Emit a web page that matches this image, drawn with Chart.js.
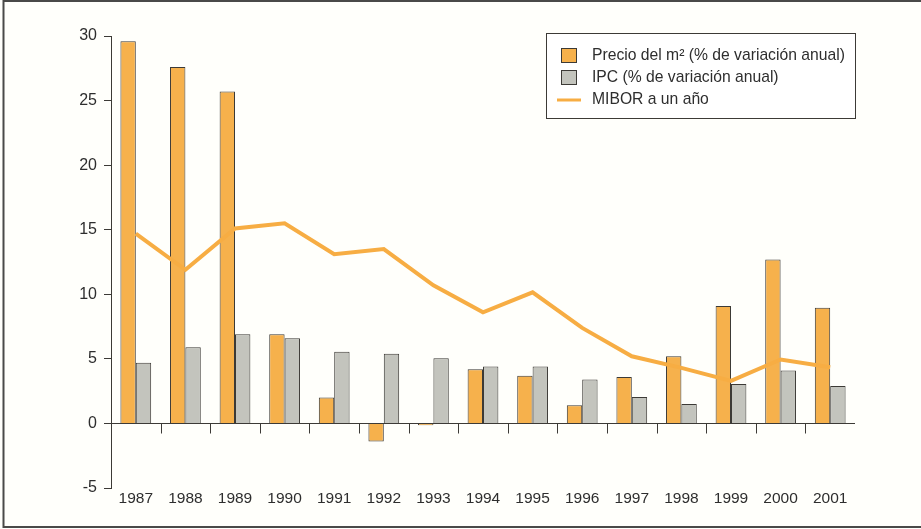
<!DOCTYPE html>
<html lang="es">
<head>
<meta charset="utf-8">
<title>Precio de la vivienda, IPC y MIBOR</title>
<script src="https://cdn.jsdelivr.net/npm/chart.js@4.4.1/dist/chart.umd.min.js"></script>
<style>
    html, body { margin: 0; padding: 0; background: #fffffb; }
    #wrap { width: 921px; height: 529px; position: relative; }
</style>
</head>
<body>
<div id="wrap"><canvas id="chart" width="921" height="529"></canvas></div>
<script>
// Datos
const years = ['1987', '1988', '1989', '1990', '1991', '1992', '1993', '1994',
    '1995', '1996', '1997', '1998', '1999', '2000', '2001'];
const precioM2 = [29.6, 27.6, 25.7, 6.9, 2.0, -1.4, -0.15, 4.2, 3.7, 1.4, 3.6, 5.2, 9.1, 12.7, 8.95];
const ipc = [4.7, 5.9, 6.9, 6.6, 5.55, 5.4, 5.05, 4.4, 4.4, 3.4, 2.05, 1.5, 3.05, 4.1, 2.9];
const mibor = [14.7, 11.9, 15.1, 15.5, 13.1, 13.5, 10.7, 8.6, 10.15, 7.4, 5.2, 4.3, 3.3, 4.95, 4.35];
const yTicks = [-5, 0, 5, 10, 15, 20, 25, 30];

const labelsLeyenda = [
    'Precio del m\u00B2 (% de variación anual)',
    'IPC (% de variación anual)',
    'MIBOR a un año'
];

const naranja = '#f6b14c';
const gris = '#c3c4bd';
const lineaNaranja = '#f7ad43';
const borde = '#3c3a36';
const texto = '#2e2e2e';
const fuente = '"Liberation Sans", Arial, sans-serif';

// marco, linea del cero y marcas entre años
const extras = {
    id: 'extras',
    beforeDraw(chart) {
        const c = chart.ctx;
        c.save();
        c.fillStyle = '#fffffb';
        c.fillRect(0, 0, chart.width, chart.height);
        c.strokeStyle = '#4a4a48';
        c.lineWidth = 2;
        c.beginPath();
        c.moveTo(3.5, 528);
        c.lineTo(3.5, 1);
        c.lineTo(chart.width, 1);
        c.moveTo(3.5, 527);
        c.lineTo(chart.width, 527);
        c.stroke();
        c.restore();
    },
    beforeDatasetsDraw(chart) {
        const c = chart.ctx;
        const x = chart.scales.x;
        const y0 = Math.round(chart.scales.y.getPixelForValue(0)) + 0.5;
        c.save();
        c.strokeStyle = borde;
        c.lineWidth = 1;
        c.beginPath();
        c.moveTo(chart.chartArea.left, y0);
        c.lineTo(chart.chartArea.right, y0);
        for (let i = 0; i < years.length - 1; i++) {
            const xb = Math.round((x.getPixelForValue(i) + x.getPixelForValue(i + 1)) / 2) + 0.5;
            c.moveTo(xb, y0);
            c.lineTo(xb, y0 + 10);
        }
        c.stroke();
        c.restore();
    },
    afterDraw(chart) {
        // leyenda en recuadro
        const c = chart.ctx;
        const bx = 546.5, by = 33.5, bw = 309, bh = 85;
        c.save();
        c.fillStyle = '#ffffff';
        c.fillRect(bx, by, bw, bh);
        c.strokeStyle = borde;
        c.lineWidth = 1;
        c.strokeRect(bx, by, bw, bh);
        const rows = [55, 77, 99];
        c.font = '15.7px ' + fuente;
        c.textBaseline = 'middle';
        c.fillStyle = texto;
        labelsLeyenda.forEach((t, i) => {
            c.fillText(t, 592, rows[i] + 1);
        });
        c.fillStyle = naranja;
        c.fillRect(561.5, 48.5, 15, 14);
        c.strokeRect(561.5, 48.5, 15, 14);
        c.fillStyle = gris;
        c.fillRect(561.5, 70.5, 15, 14);
        c.strokeRect(561.5, 70.5, 15, 14);
        c.strokeStyle = lineaNaranja;
        c.lineWidth = 3;
        c.beginPath();
        c.moveTo(557, 100);
        c.lineTo(581, 100);
        c.stroke();
        c.restore();
    }
};

new Chart(document.getElementById('chart'), {
    type: 'bar',
    data: {
        labels: years,
        datasets: [{
            type: 'line',
            label: labelsLeyenda[2],
            data: mibor,
            borderColor: lineaNaranja,
            borderWidth: 4,
            pointRadius: 0,
            tension: 0,
            order: 0
        }, {
            label: labelsLeyenda[0],
            data: precioM2,
            backgroundColor: naranja,
            borderColor: borde,
            borderWidth: 1,
            categoryPercentage: 0.62,
            barPercentage: 1.0,
            order: 1
        }, {
            label: labelsLeyenda[1],
            data: ipc,
            backgroundColor: gris,
            borderColor: borde,
            borderWidth: 1,
            categoryPercentage: 0.62,
            barPercentage: 1.0,
            order: 1
        }]
    },
    options: {
        responsive: false,
        animation: false,
        layout: { padding: { top: 36, right: 66, left: 0, bottom: 0 } },
        plugins: {
            legend: { display: false },
            tooltip: { enabled: false }
        },
        scales: {
            x: {
                grid: { display: false, drawTicks: false },
                border: { display: false },
                ticks: {
                    color: texto,
                    font: { family: fuente, size: 15.5 },
                    padding: 1,
                    maxRotation: 0,
                    autoSkip: false
                },
                afterFit(scale) { scale.height = 41; }
            },
            y: {
                min: -5,
                max: 30,
                afterBuildTicks(scale) {
                    scale.ticks = yTicks.map(v => ({ value: v }));
                },
                grid: {
                    drawOnChartArea: false,
                    drawTicks: true,
                    tickLength: 7,
                    color: borde
                },
                border: { display: true, color: borde, width: 1 },
                ticks: {
                    color: texto,
                    font: { family: fuente, size: 16 },
                    padding: 7
                },
                afterFit(scale) { scale.width = 111; }
            }
        }
    },
    plugins: [extras]
});
</script>
</body>
</html>
